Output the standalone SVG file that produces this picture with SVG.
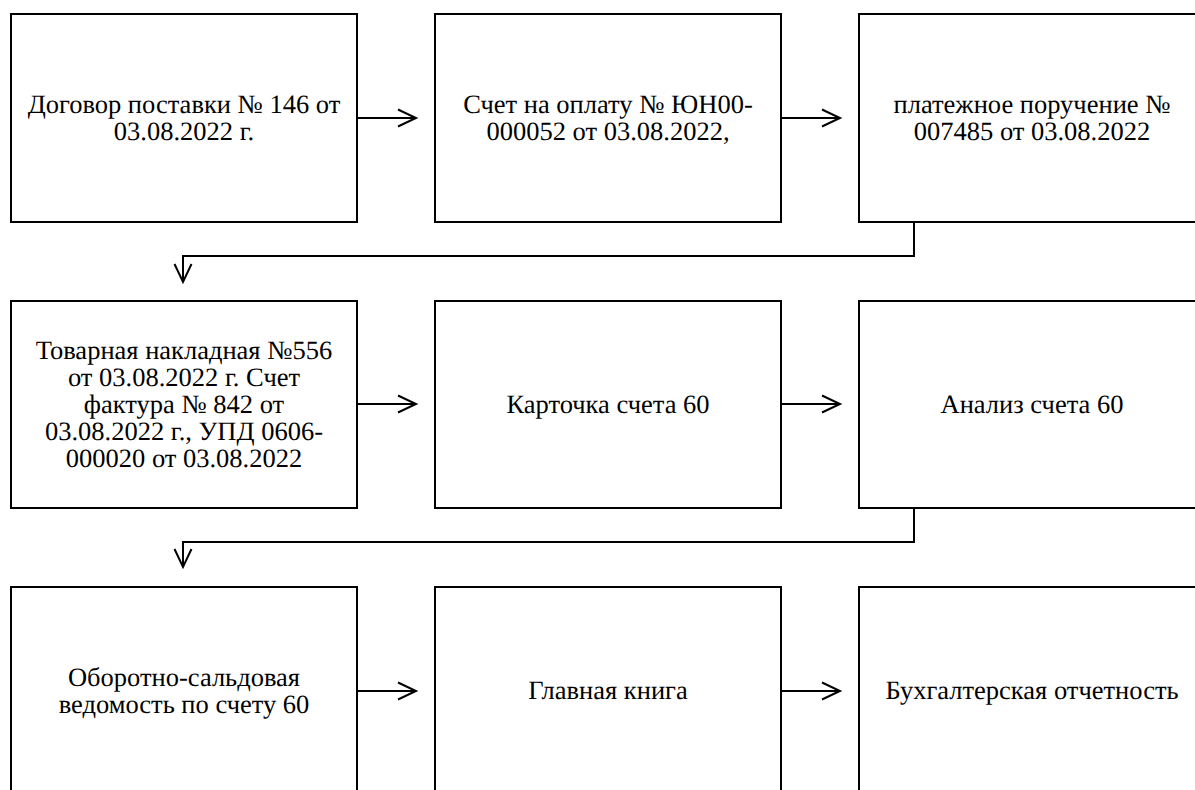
<svg xmlns="http://www.w3.org/2000/svg" width="1195" height="790" viewBox="0 0 1195 790">
<defs>
<marker id="ah" markerUnits="userSpaceOnUse" viewBox="-22 -12 26 24" markerWidth="26" markerHeight="24" refX="0" refY="0" orient="auto">
<path d="M-18,-8.5 L0,0 L-18,8.5" fill="none" stroke="#000" stroke-width="2"/>
</marker>
</defs>
<rect width="1195" height="790" fill="#fff"/>
<g fill="#fff" stroke="#000" stroke-width="2">
<rect id="b1" x="11" y="14" width="346" height="208"/>
<rect id="b2" x="435" y="14" width="346" height="208"/>
<rect id="b3" x="859" y="14" width="346" height="208"/>
<rect id="b4" x="11" y="301" width="346" height="207"/>
<rect id="b5" x="435" y="301" width="346" height="207"/>
<rect id="b6" x="859" y="301" width="346" height="207"/>
<rect id="b7" x="11" y="587" width="346" height="208"/>
<rect id="b8" x="435" y="587" width="346" height="208"/>
<rect id="b9" x="859" y="587" width="346" height="208"/>
</g>
<g font-family="Liberation Serif, Times New Roman, serif" font-size="26.5" font-weight="400" fill="#000" text-anchor="middle" text-rendering="geometricPrecision">
<g id="n1">
<text x="184" y="112.5">Договор поставки № 146 от</text>
<text x="184" y="140">03.08.2022 г.</text></g>
<g id="n2">
<text x="608" y="112.5">Счет на оплату № ЮН00-</text>
<text x="608" y="140">000052 от 03.08.2022,</text></g>
<g id="n3">
<text x="1032" y="112.5">платежное поручение №</text>
<text x="1032" y="140">007485 от 03.08.2022</text></g>
<g id="n4">
<text x="184" y="358.5">Товарная накладная №556</text>
<text x="184" y="385.7">от 03.08.2022 г. Счет</text>
<text x="184" y="412.9">фактура № 842 от</text>
<text x="184" y="440.1">03.08.2022 г., УПД 0606-</text>
<text x="184" y="467.3">000020 от 03.08.2022</text></g>
<g id="n5">
<text x="608" y="413">Карточка счета 60</text></g>
<g id="n6">
<text x="1032" y="413">Анализ счета 60</text></g>
<g id="n7">
<text x="184" y="685.5">Оборотно-сальдовая</text>
<text x="184" y="713">ведомость по счету 60</text></g>
<g id="n8">
<text x="608" y="699">Главная книга</text></g>
<g id="n9">
<text x="1032" y="699">Бухгалтерская отчетность</text></g>
</g>
<g id="connectors" fill="none" stroke="#000" stroke-width="2">
<path d="M357,118 H416" marker-end="url(#ah)"/>
<path d="M781,118 H840" marker-end="url(#ah)"/>
<path d="M914,222 V256 H183 V282" marker-end="url(#ah)"/>
<path d="M357,404 H416" marker-end="url(#ah)"/>
<path d="M781,404 H840" marker-end="url(#ah)"/>
<path d="M914,508 V542 H183 V567" marker-end="url(#ah)"/>
<path d="M357,691 H416" marker-end="url(#ah)"/>
<path d="M781,691 H840" marker-end="url(#ah)"/>
</g>
</svg>
